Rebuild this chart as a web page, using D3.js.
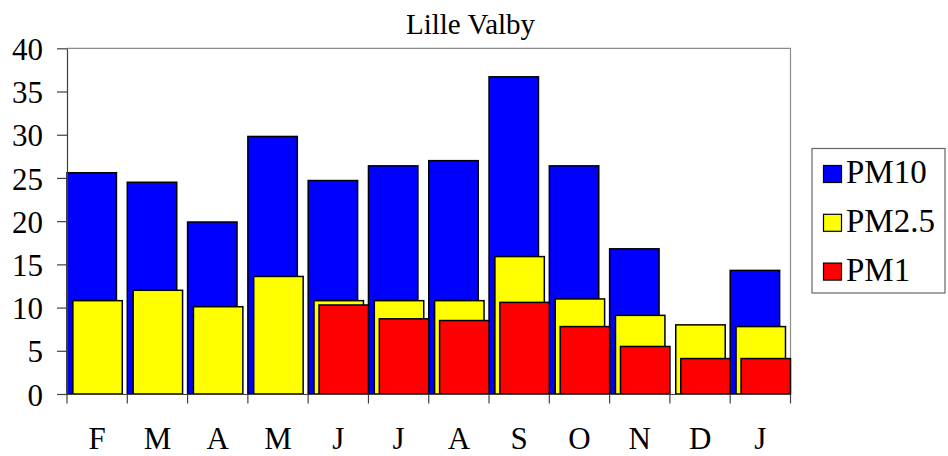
<!DOCTYPE html>
<html>
<head>
<meta charset="utf-8">
<script src="https://cdn.jsdelivr.net/npm/d3@7"></script>
<style>
  html, body { margin: 0; padding: 0; background: #fff; }
  svg { display: block; }
  svg text { font-family: "Liberation Serif", "Tinos", "Times New Roman", "DejaVu Serif", serif !important; }
</style>
</head>
<body>
<svg id="chart" width="948" height="456"></svg>
<script>
const title = "Lille Valby";
const categories = ["F", "M", "A", "M", "J", "J", "A", "S", "O", "N", "D", "J"];
const seriesNames = ["PM10", "PM2.5", "PM1"];
const seriesColors = ["#0000ff", "#ffff00", "#ff0000"];
const pm10  = [25.6, 24.5, 19.9, 29.8, 24.7, 26.4, 27.0, 36.7, 26.4, 16.8, null, 14.3];
const pm25  = [10.8, 12.0, 10.1, 13.6, 10.8, 10.8, 10.8, 15.9, 11.0, 9.1, 8.0, 7.8];
const pm1   = [null, null, null, null, 10.3, 8.7, 8.5, 10.6, 7.8, 5.5, 4.1, 4.1];
const yTicks = [0, 5, 10, 15, 20, 25, 30, 35, 40];

const seriesValues = [pm10, pm25, pm1];

const svg = d3.select("#chart");
const mLeft = 67, mRight = 790.5, mTop = 48.3, mBottom = 394;

const keys = categories.map((c, i) => i);
const x = d3.scaleBand().domain(keys).range([mLeft, mRight]).padding(0);
const y = d3.scaleLinear().domain([0, 40]).range([mBottom, mTop]);

const bw = x.bandwidth();
const offsets = [0, 0.097, 0.18];
const barW = 0.82 * bw;

// plot border (top & right)
svg.append("path")
  .attr("d", `M${mLeft},${mTop}H${mRight}V${mBottom}`)
  .attr("fill", "none").attr("stroke", "#8c8c8c").attr("stroke-width", 1.2);

// bars
seriesValues.forEach((vals, si) => {
  svg.append("g").selectAll("rect")
    .data(vals.map((v, i) => ({ v, i })).filter(d => d.v != null))
    .join("rect")
    .attr("x", d => x(d.i) + offsets[si] * bw)
    .attr("y", d => y(d.v))
    .attr("width", barW)
    .attr("height", d => y(0) - y(d.v))
    .attr("fill", seriesColors[si])
    .attr("stroke", "#000")
    .attr("stroke-width", 1.5);
});

// y axis
const yAxis = svg.append("g")
  .attr("transform", `translate(${mLeft},0)`)
  .call(d3.axisLeft(y).tickValues(yTicks).tickSize(10).tickPadding(14).tickSizeOuter(0));
yAxis.select(".domain").attr("stroke", "#404040").attr("stroke-width", 1.2);
yAxis.selectAll(".tick line").attr("stroke", "#404040").attr("stroke-width", 1.2);
yAxis.selectAll(".tick text").attr("font-size", 31).attr("fill", "#000").attr("dy", "0.36em");

// x axis
const xAxis = svg.append("g")
  .attr("transform", `translate(0,${mBottom})`)
  .call(d3.axisBottom(x).tickFormat(i => categories[i]).tickSize(0));
xAxis.select(".domain").attr("stroke", "#404040").attr("stroke-width", 1.2);
xAxis.selectAll(".tick text")
  .attr("font-size", 31).attr("fill", "#000")
  .attr("y", 55).attr("dy", 0);
// category separator ticks
const sepPos = keys.map(k => x(k)).concat([mRight]);
svg.append("g").selectAll("line")
  .data(sepPos)
  .join("line")
  .attr("x1", d => d).attr("x2", d => d)
  .attr("y1", mBottom).attr("y2", mBottom + 9.5)
  .attr("stroke", "#404040").attr("stroke-width", 1.2);

// title
svg.append("text")
  .attr("x", 470.5).attr("y", 34.3)
  .attr("text-anchor", "middle")
  .attr("font-size", 30)
  .attr("textLength", 129)
  .attr("lengthAdjust", "spacingAndGlyphs")
  .text(title);

// legend
const lg = svg.append("g");
lg.append("rect")
  .attr("x", 812).attr("y", 148.5).attr("width", 133).attr("height", 144.5)
  .attr("fill", "#fff").attr("stroke", "#666").attr("stroke-width", 1.2);
seriesNames.forEach((name, i) => {
  const base = 183 + i * 48.8;
  lg.append("rect")
    .attr("x", 823.5).attr("y", base - 17.5).attr("width", 18).attr("height", 17)
    .attr("fill", seriesColors[i]).attr("stroke", "#000").attr("stroke-width", 1.2);
  lg.append("text")
    .attr("x", 846).attr("y", base)
    .attr("font-size", 33)
    .text(name);
});
</script>
</body>
</html>
